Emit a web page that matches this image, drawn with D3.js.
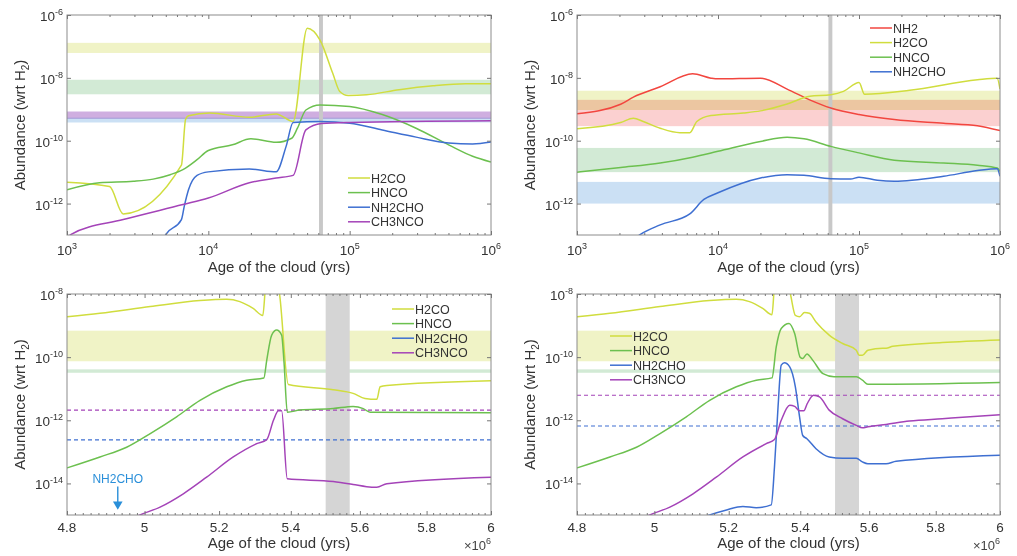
<!DOCTYPE html>
<html>
<head>
<meta charset="utf-8">
<script src="https://cdn.jsdelivr.net/npm/d3@7"></script>
<style>
  body { margin: 0; background: #fff; }
  svg { font-family: "Liberation Sans", Arial, sans-serif; }
</style>
</head>
<body>
<div id="chart"></div>
<script>
// ---- data: [age, abundance wrt H2] ----
// top-left, age in years
const p1H2CO = [[1000, 4.8e-12], [2000, 3.5e-12], [2500, 4.7e-13], [6450, 1.66e-11], [6900, 4.7e-10], [7250, 6.2e-10],
  [10200, 7.6e-10], [19500, 5.6e-10], [30200, 7.1e-10], [39800, 4.1e-10], [50100, 3.8e-7], [61700, 1.6e-7],
  [75900, 1.4e-8], [85100, 3.7e-9], [97700, 2.75e-9], [131800, 2.9e-9], [223900, 4.2e-9], [389000, 5.6e-9],
  [661000, 6.5e-9], [1e6, 6.5e-9]];
const p1HNCO = [[1000, 2.75e-12], [1700, 4.6e-12], [2950, 5.1e-12], [4070, 6.0e-12], [5370, 8.3e-12], [6610, 1.2e-11],
  [8320, 2.5e-11], [10000, 4.9e-11], [14800, 7.4e-11], [20000, 1.15e-10], [30200, 8.9e-11], [38900, 1.2e-10],
  [42700, 2.5e-10], [49000, 9.5e-10], [61700, 1.38e-9], [100000, 1.23e-9], [170000, 6.8e-10], [295000, 2.5e-10],
  [501000, 7.4e-11], [741000, 3.2e-11], [1e6, 2.1e-11]];
const p1NH2CHO = [[4500, 4e-14], [5010, 1.05e-13], [6450, 3.1e-13], [6760, 8.3e-13], [7240, 2.75e-12], [8320, 7.9e-12],
  [10000, 1.02e-11], [19500, 1.26e-11], [30200, 1.02e-11], [35500, 6.6e-11], [39800, 3.8e-10], [61700, 4.1e-10],
  [100000, 3.6e-10], [170000, 2.2e-10], [295000, 1.3e-10], [501000, 8.5e-11], [741000, 7.9e-11], [1e6, 9.1e-11]];
const p1CH3NCO = [[1000, 8e-14], [1070, 1.05e-13], [2500, 3.1e-13], [6610, 9.3e-13], [10000, 1.5e-12], [19500, 4.6e-12],
  [30200, 6.5e-12], [39800, 7.9e-12], [49000, 2.2e-10], [63100, 3.5e-10], [100000, 3.8e-10], [1e6, 4.3e-10]];
const p1ObsSpecies = ["H2CO", "HNCO", "NH2CHO", "CH3NCO"];
const p1ObsLo = [6.2e-8, 3e-9, 3.8e-10, 5e-10];
const p1ObsHi = [1.3e-7, 8.7e-9, 5.4e-10, 8.5e-10];

// top-right, age in years
const p2NH2 = [[1000, 7.2e-10], [2040, 1.45e-9], [2510, 2.45e-9], [3890, 5.2e-9], [6610, 1.35e-8], [8910, 9.8e-9],
  [10000, 9.3e-9], [20000, 9.8e-9], [30900, 4.4e-9], [44700, 2.0e-9], [63100, 1.1e-9], [100000, 6.8e-10],
  [177800, 4.7e-10], [398000, 3.6e-10], [692000, 3.0e-10], [1e6, 2.1e-10]];
const p2H2CO = [[1000, 2.4e-10], [2040, 3.8e-10], [2510, 5.2e-10], [2950, 4.1e-10], [3890, 2.5e-10], [5370, 1.8e-10],
  [6310, 1.8e-10], [7080, 4.1e-10], [8910, 6.3e-10], [15100, 7.6e-10], [20000, 8.9e-10], [30900, 1.48e-9],
  [44700, 2.6e-9], [63100, 2.9e-9], [77600, 3.7e-9], [100000, 7.1e-9], [109600, 3.0e-9], [229000, 4.0e-9],
  [692000, 8.7e-9], [955000, 9.8e-9], [1e6, 4.4e-9]];
const p2HNCO = [[1000, 1.0e-11], [2040, 1.4e-11], [3890, 1.95e-11], [6610, 3.0e-11], [10000, 4.6e-11], [20000, 9.5e-11],
  [30900, 1.29e-10], [40700, 1.15e-10], [63100, 6.6e-11], [100000, 4.1e-11], [177800, 2.4e-11], [398000, 1.95e-11],
  [692000, 1.66e-11], [955000, 1.35e-11], [1e6, 1.07e-11]];
const p2NH2CHO = [[2500, 7e-14], [2820, 1.05e-13], [3890, 2.1e-13], [6310, 4.7e-13], [7940, 1.35e-12], [10000, 2.2e-12],
  [20000, 6.5e-12], [30900, 8.3e-12], [40700, 7.9e-12], [63100, 6.2e-12], [87100, 6.0e-12], [100000, 6.9e-12],
  [134900, 5.5e-12], [177800, 5.1e-12], [398000, 7.4e-12], [692000, 1.12e-11], [955000, 1.29e-11], [1e6, 7.4e-12]];
const p2ObsSpecies = ["H2CO", "NH2", "HNCO", "NH2CHO"];
const p2ObsLo = [9.5e-10, 2.9e-10, 1e-11, 1e-12];
const p2ObsHi = [3.9e-9, 2.0e-9, 5.9e-11, 4.9e-12];

// bottom-left, age in units of 10^6 yr
const p3H2CO = [[4.8, 1.9e-9], [4.884, 2.45e-9], [5.015, 4.0e-9], [5.148, 6.2e-9], [5.221, 6.8e-9], [5.257, 5.75e-9],
  [5.294, 3.5e-9], [5.321, 2.1e-9], [5.33, 2e-8], [5.36, 3e-8], [5.368, 1e-8], [5.393, 1.35e-11], [5.522, 9.3e-12],
  [5.58, 7.1e-12], [5.615, 4.9e-12], [5.65, 4.6e-12], [5.66, 1.15e-11], [5.68, 1.26e-11], [6.0, 1.78e-11]];
const p3HNCO = [[4.8, 3.1e-14], [4.884, 6.9e-14], [4.953, 1.4e-13], [5.015, 3.8e-13], [5.085, 1.29e-12], [5.148, 4.3e-12],
  [5.221, 1.15e-11], [5.276, 1.86e-11], [5.324, 2.2e-11], [5.332, 7.9e-11], [5.346, 5.0e-10], [5.36, 7.2e-10],
  [5.374, 5.0e-10], [5.381, 6.3e-11], [5.39, 1.8e-12], [5.426, 2.1e-12], [5.522, 2.35e-12], [5.58, 2.75e-12],
  [5.61, 2.35e-12], [5.63, 1.8e-12], [6.0, 1.74e-12]];
const p3CH3NCO = [[4.95, 6e-16], [4.988, 1.0e-15], [5.041, 1.78e-15], [5.103, 4.7e-15], [5.166, 1.58e-14], [5.239, 6.9e-14],
  [5.304, 1.82e-13], [5.332, 2.45e-13], [5.351, 1.0e-12], [5.365, 2.0e-12], [5.374, 2.0e-12], [5.39, 1.4e-14],
  [5.522, 1.15e-14], [5.58, 9.3e-15], [5.62, 7.9e-15], [5.65, 7.6e-15], [5.68, 9.8e-15], [6.0, 1.58e-14]];
const p3ObsSpecies = ["H2CO", "HNCO"];
const p3ObsLo = [7.4e-11, 3.2e-11];
const p3ObsHi = [6.9e-10, 4.1e-11];
const p3DashSpecies = ["CH3NCO", "NH2CHO"];
const p3DashVals = [2.1e-12, 2.4e-13];

// bottom-right, age in units of 10^6 yr
const p4H2CO = [[4.8, 1.9e-9], [4.884, 2.45e-9], [5.015, 4.0e-9], [5.148, 6.2e-9], [5.221, 6.8e-9], [5.257, 5.75e-9],
  [5.294, 3.5e-9], [5.32, 2.2e-9], [5.328, 2e-8], [5.362, 3e-8], [5.372, 1e-8], [5.386, 2.1e-9], [5.398, 1.9e-9],
  [5.412, 2.6e-9], [5.426, 2.45e-9], [5.445, 1.3e-9], [5.483, 5.0e-10], [5.522, 2.7e-10], [5.562, 1.66e-10],
  [5.57, 1.15e-10], [5.58, 1.15e-10], [5.596, 1.66e-10], [5.64, 1.9e-10], [5.65, 1.9e-10], [5.67, 2.2e-10],
  [5.82, 2.9e-10], [6.0, 3.5e-10]];
const p4HNCO = [[4.8, 3.1e-14], [4.884, 6.9e-14], [4.953, 1.4e-13], [5.015, 3.8e-13], [5.085, 1.29e-12], [5.148, 4.3e-12],
  [5.221, 1.15e-11], [5.276, 1.86e-11], [5.32, 2.2e-11], [5.332, 2.1e-10], [5.346, 8.1e-10], [5.368, 1.17e-9],
  [5.384, 5.6e-10], [5.4, 9.8e-11], [5.407, 9.1e-11], [5.419, 1.26e-10], [5.436, 7.9e-11], [5.465, 3.0e-11],
  [5.497, 2.4e-11], [5.562, 2.4e-11], [5.58, 1.86e-11], [5.596, 1.38e-11], [6.0, 1.58e-11]];
const p4NH2CHO = [[5.1, 6e-16], [5.148, 1.0e-15], [5.194, 1.45e-15], [5.239, 1.86e-15], [5.276, 1.7e-15], [5.318, 2.1e-15],
  [5.327, 3.3e-14], [5.337, 2.6e-12], [5.346, 5.6e-11], [5.355, 6.6e-11], [5.37, 4.9e-11], [5.386, 1.15e-11],
  [5.398, 1.29e-12], [5.407, 3.3e-13], [5.419, 2.6e-13], [5.445, 1.26e-13], [5.483, 6.9e-14], [5.522, 6.3e-14],
  [5.562, 6.3e-14], [5.58, 4.8e-14], [5.596, 4.2e-14], [5.65, 4.2e-14], [5.68, 5.0e-14], [6.0, 7.8e-14]];
const p4CH3NCO = [[4.95, 6e-16], [4.988, 1.0e-15], [5.041, 1.78e-15], [5.103, 4.7e-15], [5.166, 1.58e-14], [5.239, 6.9e-14],
  [5.304, 1.82e-13], [5.327, 2.45e-13], [5.346, 1.0e-12], [5.37, 3.0e-12], [5.384, 2.75e-12], [5.398, 2.0e-12],
  [5.41, 2.0e-12], [5.42, 3.4e-12], [5.438, 6.2e-12], [5.455, 5.5e-12], [5.483, 2.1e-12], [5.522, 1.12e-12],
  [5.562, 6.9e-13], [5.58, 5.75e-13], [5.596, 6.2e-13], [5.65, 7.4e-13], [5.72, 9.5e-13], [5.82, 1.12e-12], [6.0, 1.5e-12]];
const p4ObsSpecies = ["H2CO", "HNCO"];
const p4ObsLo = [7.4e-11, 3.2e-11];
const p4ObsHi = [6.9e-10, 4.1e-11];
const p4DashSpecies = ["CH3NCO", "NH2CHO"];
const p4DashVals = [6.2e-12, 6.6e-13];

// grey marker of the present age
const topMark = [6.07e4, 6.47e4];
const botMark = [5.5, 5.57];

// tick values
const topXTicks = [1e3, 1e4, 1e5, 1e6];
const topYTicks = [1e-6, 1e-8, 1e-10, 1e-12];
const botXTicks = [4.8, 5, 5.2, 5.4, 5.6, 5.8, 6];
const botYTicks = [1e-8, 1e-10, 1e-12, 1e-14];

const lineColor = { NH2: "#f2463f", H2CO: "#d0dd3e", HNCO: "#6cc04f", NH2CHO: "#3e6fd1", CH3NCO: "#a443b8" };
const bandColor = { NH2: "#fbd0d0", H2CO: "#f0f3c6", HNCO: "#d2ead5", NH2CHO: "#cbe0f4", CH3NCO: "#cfaee0" };

const svg = d3.select("#chart").append("svg")
  .attr("width", 1017)
  .attr("height", 556);

const panels = [
  { id: 1, x0: 67, x1: 491, y0: 15, y1: 235, xDomain: [1e3, 1e6], yDomain: [1e-13, 1e-6], top: true,
    series: [["H2CO", p1H2CO], ["HNCO", p1HNCO], ["NH2CHO", p1NH2CHO], ["CH3NCO", p1CH3NCO]],
    obs: [p1ObsSpecies, p1ObsLo, p1ObsHi], mark: topMark, legend: [348, 178] },
  { id: 2, x0: 577, x1: 1000, y0: 15, y1: 235, xDomain: [1e3, 1e6], yDomain: [1e-13, 1e-6], top: true,
    series: [["NH2", p2NH2], ["H2CO", p2H2CO], ["HNCO", p2HNCO], ["NH2CHO", p2NH2CHO]],
    obs: [p2ObsSpecies, p2ObsLo, p2ObsHi], mark: topMark, legend: [870, 28] },
  { id: 3, x0: 67, x1: 491, y0: 294, y1: 515, xDomain: [4.8, 6], yDomain: [1e-15, 1e-8], top: false,
    series: [["H2CO", p3H2CO], ["HNCO", p3HNCO], ["CH3NCO", p3CH3NCO]],
    legendNames: ["H2CO", "HNCO", "NH2CHO", "CH3NCO"],
    obs: [p3ObsSpecies, p3ObsLo, p3ObsHi], dash: [p3DashSpecies, p3DashVals], mark: botMark, legend: [392, 309] },
  { id: 4, x0: 577, x1: 1000, y0: 294, y1: 515, xDomain: [4.8, 6], yDomain: [1e-15, 1e-8], top: false,
    series: [["H2CO", p4H2CO], ["HNCO", p4HNCO], ["NH2CHO", p4NH2CHO], ["CH3NCO", p4CH3NCO]],
    obs: [p4ObsSpecies, p4ObsLo, p4ObsHi], dash: [p4DashSpecies, p4DashVals], mark: botMark, legend: [610, 336] }
];

function tickAxis(g, axis, tr, vals, size) {
  g.append("g")
    .attr("transform", tr)
    .call(axis.tickValues(vals).tickSize(size).tickSizeOuter(0).tickFormat(() => ""))
    .call(a => a.select(".domain").remove())
    .selectAll("line").attr("stroke", "#777");
}

// "10" with a superscript exponent
function powLabel(g, x, y, exp, anchor) {
  const t = g.append("text")
    .attr("x", x).attr("y", y)
    .attr("text-anchor", anchor)
    .attr("font-size", 13.5)
    .attr("fill", "#333");
  t.append("tspan").text("10");
  t.append("tspan").attr("dy", -6).attr("font-size", 9).text(exp);
}

function drawPanel(p) {
  const g = svg.append("g");
  const x = d3.scaleLog().domain(p.xDomain).range([p.x0, p.x1]);
  const y = d3.scaleLog().domain(p.yDomain).range([p.y1, p.y0]);
  const w = p.x1 - p.x0, h = p.y1 - p.y0;

  g.append("clipPath").attr("id", "clip" + p.id)
    .append("rect").attr("x", p.x0).attr("y", p.y0).attr("width", w).attr("height", h);
  const plot = g.append("g").attr("clip-path", `url(#clip${p.id})`);

  // observed ranges
  const [spc, lo, hi] = p.obs;
  spc.forEach((s, i) => {
    plot.append("rect")
      .attr("x", p.x0).attr("width", w)
      .attr("y", y(hi[i])).attr("height", y(lo[i]) - y(hi[i]))
      .attr("fill", bandColor[s])
      .style("mix-blend-mode", "multiply");
  });

  // present-age marker
  plot.append("rect")
    .attr("x", x(p.mark[0])).attr("width", x(p.mark[1]) - x(p.mark[0]))
    .attr("y", p.y0).attr("height", h)
    .attr("fill", p.top ? "#c8c8c8" : "#d5d5d5");

  // observed single values (dashed)
  if (p.dash) {
    p.dash[0].forEach((s, i) => {
      plot.append("line")
        .attr("x1", p.x0).attr("x2", p.x1)
        .attr("y1", y(p.dash[1][i])).attr("y2", y(p.dash[1][i]))
        .attr("stroke", lineColor[s]).attr("stroke-width", 1.2)
        .attr("stroke-dasharray", "4,3");
    });
  }

  const line = d3.line()
    .x(d => x(d[0]))
    .y(d => y(d[1]))
    .curve(d3.curveMonotoneX);

  p.series.forEach(([s, data]) => {
    plot.append("path")
      .datum(data)
      .attr("d", line)
      .attr("fill", "none")
      .attr("stroke", lineColor[s])
      .attr("stroke-width", 1.5);
  });

  // frame
  g.append("rect")
    .attr("x", p.x0).attr("y", p.y0).attr("width", w).attr("height", h)
    .attr("fill", "none").attr("stroke", "#8c8c8c").attr("stroke-width", 1);

  // ticks, inward on all four sides
  const xMajor = p.top ? topXTicks : botXTicks;
  const yMajor = p.top ? topYTicks : botYTicks;
  let xMinor;
  if (p.top) {
    xMinor = [];
    [1e3, 1e4, 1e5].forEach(d => d3.range(2, 10).forEach(k => xMinor.push(k * d)));
  } else {
    xMinor = d3.range(241, 300).map(k => k / 50).filter(v => Math.round(v * 50) % 10 !== 0);
  }
  tickAxis(g, d3.axisBottom(x), `translate(0,${p.y1})`, xMajor, -4);
  tickAxis(g, d3.axisTop(x), `translate(0,${p.y0})`, xMajor, -4);
  tickAxis(g, d3.axisBottom(x), `translate(0,${p.y1})`, xMinor, -2);
  tickAxis(g, d3.axisTop(x), `translate(0,${p.y0})`, xMinor, -2);
  tickAxis(g, d3.axisLeft(y), `translate(${p.x0},0)`, yMajor, -4);
  tickAxis(g, d3.axisRight(y), `translate(${p.x1},0)`, yMajor, -4);

  // tick labels
  yMajor.forEach(v => powLabel(g, p.x0 - 4, y(v) + 6, String(Math.round(Math.log10(v))), "end"));
  if (p.top) {
    xMajor.forEach(v => powLabel(g, x(v), p.y1 + 20, String(Math.round(Math.log10(v))), "middle"));
  } else {
    xMajor.forEach(v => {
      g.append("text")
        .attr("x", x(v)).attr("y", p.y1 + 17)
        .attr("text-anchor", "middle")
        .attr("font-size", 13.5).attr("fill", "#333")
        .text(v);
    });
    const m = g.append("text")
      .attr("x", p.x1).attr("y", p.y1 + 35)
      .attr("text-anchor", "end")
      .attr("font-size", 13).attr("fill", "#444");
    m.append("tspan").text("\u00d710");
    m.append("tspan").attr("dy", -6).attr("font-size", 9).text("6");
  }

  // axis titles
  g.append("text")
    .attr("x", (p.x0 + p.x1) / 2).attr("y", p.y1 + (p.top ? 37 : 33))
    .attr("text-anchor", "middle")
    .attr("font-size", 15).attr("fill", "#333")
    .text("Age of the cloud (yrs)");

  const yt = g.append("text")
    .attr("transform", `translate(${p.x0 - 42},${(p.y0 + p.y1) / 2}) rotate(-90)`)
    .attr("text-anchor", "middle")
    .attr("font-size", 15).attr("fill", "#333");
  yt.append("tspan").text("Abundance (wrt H");
  yt.append("tspan").attr("dy", 4).attr("font-size", 10).text("2");
  yt.append("tspan").attr("dy", -4).text(")");

  // legend
  const names = p.legendNames || p.series.map(d => d[0]);
  const legend = g.append("g").attr("transform", `translate(${p.legend[0]},${p.legend[1]})`);
  names.forEach((s, i) => {
    const row = legend.append("g").attr("transform", `translate(0,${i * 14.6})`);
    row.append("line")
      .attr("x1", 0).attr("x2", 22)
      .attr("stroke", lineColor[s]).attr("stroke-width", 1.5);
    row.append("text")
      .attr("x", 23).attr("y", 4.5)
      .attr("font-size", 12.5).attr("fill", "#333")
      .text(s);
  });

  return { x, y };
}

const scales = panels.map(drawPanel);

// NH2CHO falls below the bottom-left axis range: arrow note
const s3 = scales[2];
const note = svg.append("g").attr("fill", "#2a8fd9");
note.append("text")
  .attr("x", s3.x(4.93)).attr("y", s3.y(1e-14))
  .attr("text-anchor", "middle")
  .attr("font-size", 12)
  .text("NH2CHO");
note.append("line")
  .attr("x1", s3.x(4.93)).attr("x2", s3.x(4.93))
  .attr("y1", s3.y(8e-15)).attr("y2", s3.y(2.6e-15))
  .attr("stroke", "#2a8fd9").attr("stroke-width", 1.4);
note.append("path")
  .attr("d", d3.symbol(d3.symbolTriangle, 40)())
  .attr("transform", `translate(${s3.x(4.93)},${s3.y(2.2e-15)}) rotate(180)`);
</script>
</body>
</html>
